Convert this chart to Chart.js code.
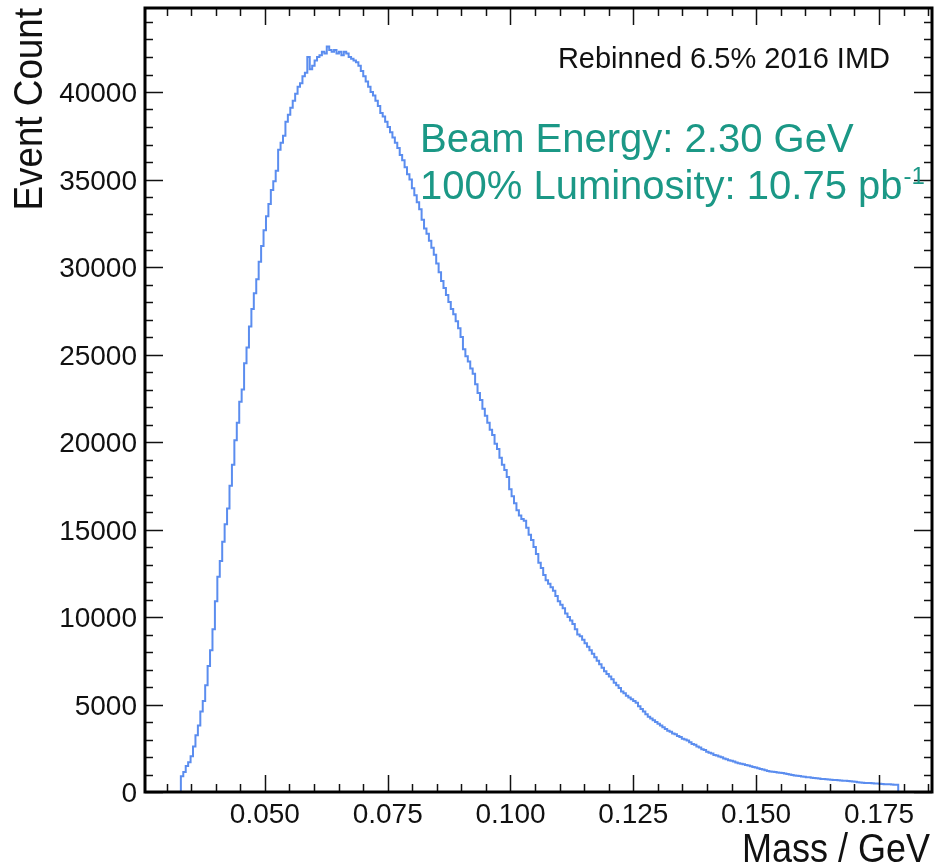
<!DOCTYPE html>
<html>
<head>
<meta charset="utf-8">
<script src="https://cdn.jsdelivr.net/npm/chart.js@4.4.1/dist/chart.umd.min.js"></script>
<style>
  html, body { margin: 0; padding: 0; background: #fff; }
  #wrap { width: 937px; height: 866px; position: relative; }
</style>
</head>
<body>
<div id="wrap"><canvas id="massChart" width="937" height="866"></canvas></div>
<script>
// histogram binning (GeV)
const binStart = 0.0329;
const binWidth = 0.000495;

// event counts per bin
const counts = [
  900, 1150, 1480, 1700, 2050, 2600, 3250, 3800, 4600, 5200,
  6100, 7200, 8100, 9300, 10900, 12300, 13200, 14300, 15300, 16200,
  17500, 18700, 20100, 21100, 22300, 23000, 24500, 25400, 26600, 27600,
  28500, 29300, 30300, 31200, 32100, 32900, 33600, 34400, 34900, 35500,
  36700, 37100, 37500, 38300, 38700, 39100, 39500, 39900, 40300, 40500,
  40900, 41100, 42000, 41300, 41500, 41800, 42000, 42100, 42300, 42200,
  42600, 42400, 42300, 42400, 42200, 42300, 42100, 42300, 42200, 42000,
  41900, 41800, 41700, 41500, 41200, 40900, 40600, 40300, 40000, 39800,
  39500, 39200, 38800, 38600, 38300, 38000, 37700, 37400, 37100, 36800,
  36400, 36100, 35700, 35300, 35000, 34500, 34100, 33700, 33300, 32700,
  32200, 31900, 31500, 31100, 30700, 30200, 29700, 29200, 28800, 28400,
  28000, 27600, 27300, 26900, 26500, 26000, 25300, 24900, 24600, 24200,
  23900, 23300, 22800, 22400, 21900, 21500, 21100, 20700, 20400, 19900,
  19600, 19100, 18700, 18400, 18000, 17300, 16900, 16500, 16100, 15800,
  15600, 15500, 15100, 14700, 14400, 14000, 13600, 13100, 12800, 12400,
  12100, 11900, 11700, 11500, 11200, 10900, 10700, 10500, 10200, 10000,
  9800, 9600, 9300, 9000, 8900, 8700, 8500, 8300, 8100, 7900,
  7700, 7500, 7300, 7100, 6900, 6750, 6600, 6450, 6250, 6100,
  5950, 5750, 5650, 5500, 5400, 5300, 5200, 5100, 4900, 4750,
  4600, 4450, 4300, 4200, 4100, 4000, 3900, 3800, 3700, 3600,
  3500, 3450, 3350, 3300, 3200, 3150, 3050, 3000, 2950, 2850,
  2750, 2700, 2600, 2550, 2450, 2400, 2300, 2250, 2200, 2120,
  2080, 2030, 1980, 1920, 1870, 1820, 1780, 1740, 1690, 1650,
  1610, 1580, 1540, 1510, 1470, 1430, 1400, 1360, 1320, 1280,
  1240, 1200, 1170, 1160, 1140, 1120, 1100, 1080, 1060, 1030,
  1000, 970, 940, 930, 910, 890, 870, 850, 840, 820,
  800, 790, 770, 750, 740, 730, 720, 700, 690, 680,
  670, 660, 650, 640, 630, 610, 600, 580, 560, 540,
  530, 520, 510, 510, 500, 490, 480, 470, 460, 450,
  440, 440, 430, 420, 410
];

// axes
const xMin = 0.0256, xMax = 0.1858;
const yMin = 0, yMax = 44800;
const xTickValues = [0.050, 0.075, 0.100, 0.125, 0.150, 0.175];
const xTickLabels = ['0.050', '0.075', '0.100', '0.125', '0.150', '0.175'];
const xMinorStep = 0.005;
const yTickValues = [0, 5000, 10000, 15000, 20000, 25000, 30000, 35000, 40000];
const yTickLabels = ['0', '5000', '10000', '15000', '20000', '25000', '30000', '35000', '40000'];
const yMinorStep = 1000;

const lineColor = '#5b8def';
const noteColor = '#1b9886';
const font = '"Liberation Sans", Arial, Helvetica, sans-serif';

// step outline: rise at first edge, fall at last edge
const points = [{ x: binStart, y: 0 }];
counts.forEach((c, i) => points.push({ x: binStart + i * binWidth, y: c }));
points.push({ x: binStart + counts.length * binWidth, y: 0 });

const rootFrame = {
  id: 'rootFrame',
  afterDraw(chart) {
    const { ctx, chartArea: a, scales: { x, y } } = chart;
    ctx.save();

    // ticks on all four sides, pointing inward
    ctx.strokeStyle = '#111';
    ctx.lineWidth = 1.5;
    ctx.beginPath();
    for (let k = Math.ceil(xMin / xMinorStep); k * xMinorStep <= xMax; k++) {
      const v = k * xMinorStep;
      const px = Math.round(x.getPixelForValue(v)) + 0.5;
      const len = k % 5 === 0 ? 17 : 8;
      ctx.moveTo(px, a.bottom); ctx.lineTo(px, a.bottom - len);
      ctx.moveTo(px, a.top); ctx.lineTo(px, a.top + len);
    }
    for (let k = Math.ceil(yMin / yMinorStep); k * yMinorStep <= yMax; k++) {
      const py = Math.round(y.getPixelForValue(k * yMinorStep)) + 0.5;
      const len = k % 5 === 0 ? 18 : 8;
      ctx.moveTo(a.left, py); ctx.lineTo(a.left + len, py);
      ctx.moveTo(a.right, py); ctx.lineTo(a.right - len, py);
    }
    ctx.stroke();

    // frame
    ctx.lineWidth = 3;
    ctx.strokeStyle = '#000';
    ctx.strokeRect(a.left, a.top, a.right - a.left, a.bottom - a.top);

    // tick labels
    ctx.fillStyle = '#111';
    ctx.font = '28px ' + font;
    ctx.textAlign = 'center';
    ctx.textBaseline = 'alphabetic';
    xTickValues.forEach((v, i) => ctx.fillText(xTickLabels[i], x.getPixelForValue(v), a.bottom + 31));
    ctx.textAlign = 'right';
    yTickValues.forEach((v, i) => ctx.fillText(yTickLabels[i], a.left - 8, y.getPixelForValue(v) + 10));

    // axis titles (narrow Helvetica look)
    ctx.font = '40px ' + font;
    ctx.save();
    ctx.translate(930, 862);
    ctx.scale(0.9, 1);
    ctx.textAlign = 'right';
    ctx.fillText('Mass / GeV', 0, 0);
    ctx.restore();

    ctx.save();
    ctx.translate(42, 8);
    ctx.rotate(-Math.PI / 2);
    ctx.scale(0.92, 1);
    ctx.textAlign = 'right';
    ctx.fillText('Event Count', 0, 0);
    ctx.restore();

    // notes
    ctx.textAlign = 'right';
    ctx.font = '29px ' + font;
    ctx.fillStyle = '#111';
    ctx.fillText('Rebinned 6.5% 2016 IMD', 890, 68);

    ctx.textAlign = 'left';
    ctx.fillStyle = noteColor;
    ctx.font = '40px ' + font;
    ctx.fillText('Beam Energy: 2.30 GeV', 420, 152);
    const lum = '100% Luminosity: 10.75 pb';
    ctx.fillText(lum, 420, 199);
    const w = ctx.measureText(lum).width;
    ctx.font = '24px ' + font;
    ctx.fillText('-1', 420 + w + 1, 184);

    ctx.restore();
  }
};

new Chart(document.getElementById('massChart'), {
  type: 'line',
  data: {
    datasets: [{
      label: 'Invariant mass',
      data: points,
      stepped: true,
      borderColor: lineColor,
      borderWidth: 2,
      pointRadius: 0,
      fill: false,
      tension: 0
    }]
  },
  options: {
    responsive: false,
    animation: false,
    events: [],
    layout: { padding: { left: 145, right: 5, top: 8, bottom: 74 } },
    plugins: { legend: { display: false }, tooltip: { enabled: false } },
    scales: {
      x: { type: 'linear', min: xMin, max: xMax, display: false },
      y: { type: 'linear', min: yMin, max: yMax, display: false }
    }
  },
  plugins: [rootFrame]
});
</script>
</body>
</html>
